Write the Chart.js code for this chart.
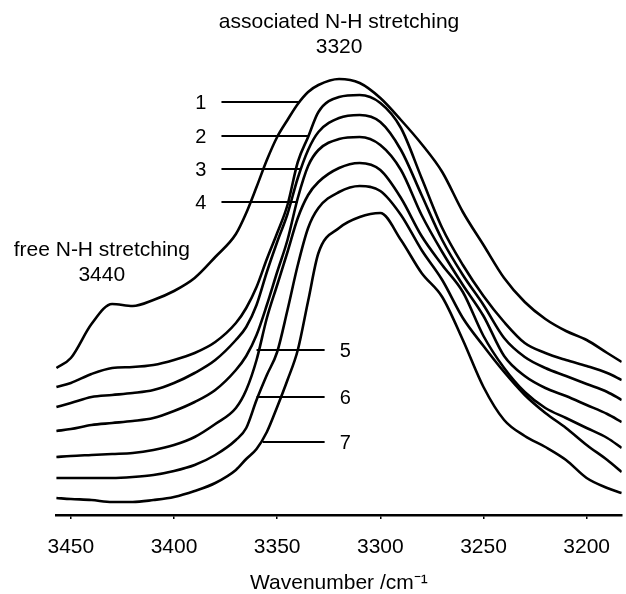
<!DOCTYPE html>
<html>
<head>
<meta charset="utf-8">
<script src="https://cdn.jsdelivr.net/npm/chart.js@4"></script>
<style>
  html, body { margin: 0; padding: 0; background: #fff; }
  #wrap { width: 626px; height: 594px; position: relative; }
</style>
</head>
<body>
<div id="wrap"><canvas id="c"></canvas></div>
<script>
// Wavenumber grid (cm-1)
const wavenumbers = [3457,3450,3440,3430,3420,3410,3400,3390,3380,3370,3365,3360,3355,3350,3345,3340,3335,3330,3320,3310,3300,3290,3280,3270,3260,3250,3240,3230,3220,3210,3200,3190,3183];

// Offset absorbance spectra (arbitrary units), curves 1..7
const curve1 = [0.294,0.314,0.382,0.422,0.418,0.430,0.448,0.474,0.516,0.562,0.604,0.656,0.710,0.756,0.790,0.822,0.846,0.860,0.872,0.864,0.834,0.790,0.742,0.686,0.606,0.540,0.474,0.426,0.392,0.368,0.350,0.324,0.306];
const curve2 = [0.256,0.264,0.282,0.294,0.296,0.300,0.310,0.324,0.346,0.384,0.414,0.456,0.512,0.564,0.620,0.706,0.756,0.806,0.836,0.840,0.824,0.774,0.674,0.574,0.500,0.438,0.386,0.344,0.324,0.310,0.298,0.284,0.270];
const curve3 = [0.216,0.224,0.236,0.240,0.244,0.250,0.264,0.284,0.310,0.350,0.376,0.420,0.486,0.546,0.602,0.674,0.730,0.766,0.794,0.800,0.786,0.730,0.640,0.550,0.480,0.420,0.354,0.316,0.294,0.278,0.262,0.246,0.230];
const curve4 = [0.168,0.172,0.180,0.184,0.188,0.194,0.208,0.226,0.250,0.290,0.318,0.360,0.420,0.486,0.550,0.634,0.698,0.730,0.752,0.756,0.740,0.690,0.600,0.526,0.460,0.398,0.318,0.278,0.254,0.238,0.220,0.202,0.186];
const curve5 = [0.116,0.118,0.120,0.122,0.124,0.130,0.140,0.156,0.182,0.214,0.250,0.310,0.394,0.460,0.526,0.594,0.640,0.666,0.694,0.704,0.690,0.634,0.558,0.500,0.446,0.358,0.294,0.246,0.214,0.194,0.174,0.154,0.134];
const curve6 = [0.074,0.074,0.074,0.074,0.076,0.080,0.088,0.100,0.120,0.150,0.174,0.230,0.280,0.326,0.410,0.500,0.574,0.614,0.646,0.658,0.648,0.600,0.530,0.470,0.394,0.338,0.286,0.240,0.204,0.174,0.140,0.110,0.086];
const curve7 = [0.034,0.032,0.030,0.026,0.026,0.030,0.036,0.048,0.064,0.090,0.112,0.132,0.166,0.216,0.270,0.330,0.428,0.524,0.574,0.596,0.604,0.550,0.484,0.436,0.350,0.256,0.190,0.158,0.136,0.110,0.074,0.054,0.044];

const seriesList = [curve1, curve2, curve3, curve4, curve5, curve6, curve7];
const curveNames = ['1','2','3','4','5','6','7'];

// Leader-line annotations (data units)
const leaderLevel = [0.826, 0.758, 0.692, 0.626, 0.330, 0.236, 0.146];
const leaderFrom  = [3377, 3377, 3377, 3377, 3360, 3360, 3357];
const leaderTo    = [3339, 3335, 3338.5, 3340, 3327, 3327, 3327];
const nameAt      = [3387, 3387, 3387, 3387, 3317, 3317, 3317];

// Band annotations
const bandText  = [['associated N-H stretching', '3320'], ['free N-H stretching', '3440']];
const bandX     = [3320, 3435];
const bandY     = [[0.986, 0.936], [0.530, 0.480]];

const FONT = "'Liberation Sans', Arial, Helvetica, sans-serif";

const annotate = {
  id: 'annotate',
  afterDatasetsDraw(chart) {
    const {ctx, scales: {x, y}} = chart;
    ctx.save();
    ctx.strokeStyle = '#000';
    ctx.fillStyle = '#000';
    ctx.lineWidth = 2;
    ctx.textAlign = 'center';
    ctx.textBaseline = 'middle';
    ctx.font = '20px ' + FONT;
    for (let i = 0; i < curveNames.length; i++) {
      const py = y.getPixelForValue(leaderLevel[i]);
      ctx.beginPath();
      ctx.moveTo(x.getPixelForValue(leaderFrom[i]), py);
      ctx.lineTo(x.getPixelForValue(leaderTo[i]), py);
      ctx.stroke();
      ctx.fillText(curveNames[i], x.getPixelForValue(nameAt[i]), py + 1);
    }
    ctx.font = '21px ' + FONT;
    for (let b = 0; b < bandText.length; b++) {
      for (let k = 0; k < bandText[b].length; k++) {
        ctx.fillText(bandText[b][k], x.getPixelForValue(bandX[b]), y.getPixelForValue(bandY[b][k]));
      }
    }
    ctx.restore();
  }
};

new Chart(document.getElementById('c'), {
  type: 'line',
  data: {
    datasets: seriesList.map((s, i) => ({
      label: curveNames[i],
      data: wavenumbers.map((w, j) => ({x: w, y: s[j]})),
      borderColor: '#000',
      borderWidth: 2.6,
      pointRadius: 0,
      fill: false,
      cubicInterpolationMode: 'monotone'
    }))
  },
  options: {
    responsive: true,
    maintainAspectRatio: false,
    animation: false,
    events: [],
    layout: { padding: { left: 56, right: 0, top: 15, bottom: 0 } },
    plugins: { legend: { display: false }, tooltip: { enabled: false }, title: { display: false } },
    scales: {
      x: {
        type: 'linear',
        reverse: true,
        min: 3183,
        max: 3457.2,
        afterFit(scale) { scale.height = 79; },
        border: { display: true, color: '#000', width: 2.5 },
        grid: { display: true, drawOnChartArea: false, drawTicks: true, tickLength: 4, color: '#000', lineWidth: 1.5 },
        ticks: { stepSize: 50, includeBounds: false, color: '#000', padding: 16, maxRotation: 0,
                 font: { family: FONT, size: 21 },
                 callback: (v) => String(Math.round(v)) },
        title: { display: true, text: 'Wavenumber /cm\u207B\u00B9', color: '#000',
                 font: { family: FONT, size: 21, lineHeight: 1.0 }, padding: { top: 0, bottom: 0 } }
      },
      y: { display: false, min: 0, max: 1.0 }
    }
  },
  plugins: [annotate]
});
</script>
</body>
</html>
